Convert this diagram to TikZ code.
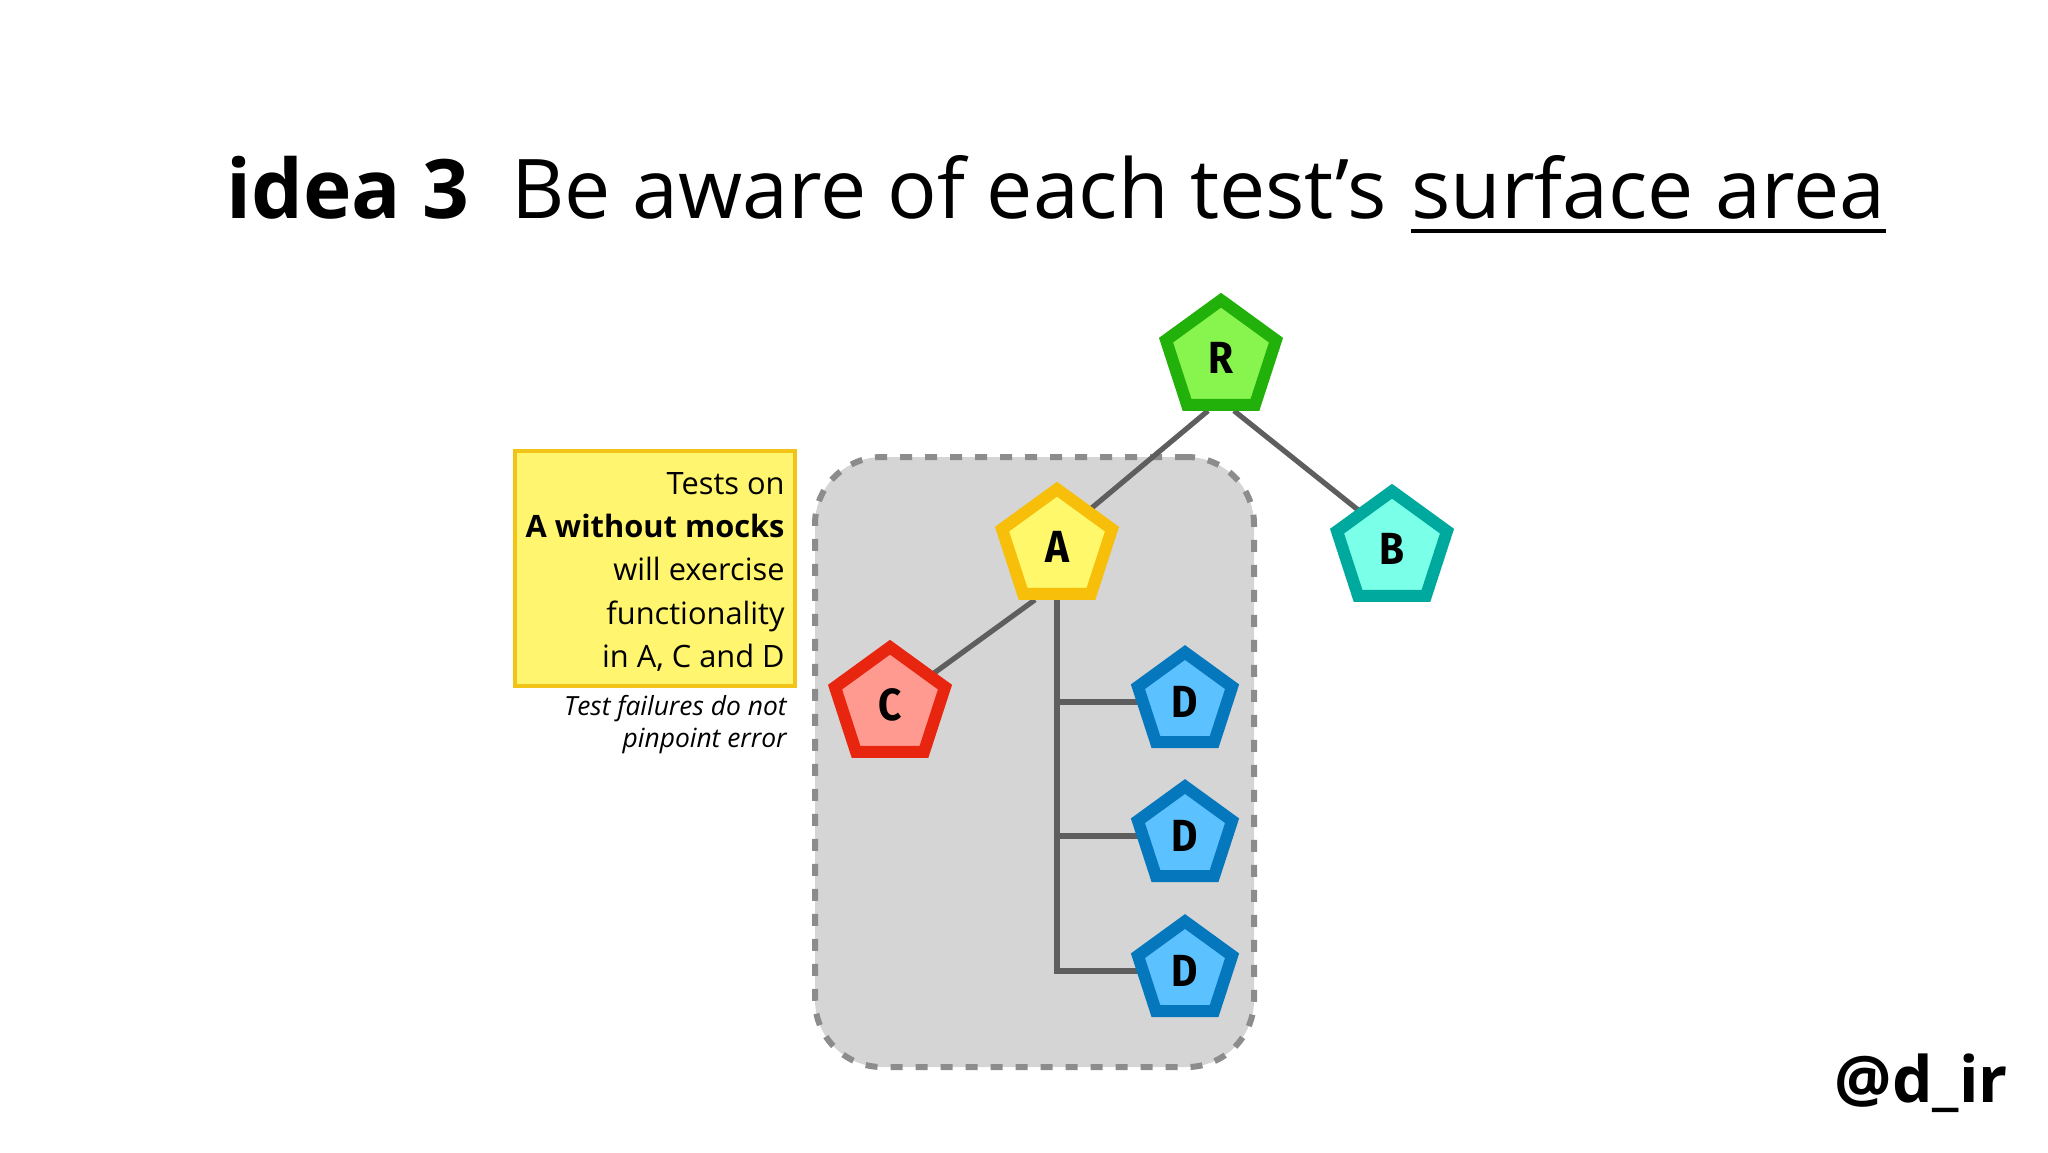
\documentclass[tikz,border=0pt]{standalone}
\usepackage{fontspec}
\setmainfont{Open Sans}
\newfontfamily\lblfont{Fira Sans}[FakeStretch=0.9]
\usetikzlibrary{shapes.geometric,calc}
\pgfdeclarelayer{bg}
\pgfsetlayers{bg,main}
\definecolor{Rfill}{HTML}{88F54E}
\definecolor{Rdraw}{HTML}{22B10A}
\definecolor{Afill}{HTML}{FFF86B}
\definecolor{Adraw}{HTML}{F7BE0A}
\definecolor{Bfill}{HTML}{7AFFE9}
\definecolor{Bdraw}{HTML}{00A99D}
\definecolor{Cfill}{HTML}{FF9A91}
\definecolor{Cdraw}{HTML}{E8250F}
\definecolor{Dfill}{HTML}{5CC1FF}
\definecolor{Ddraw}{HTML}{0577BD}
\definecolor{edgecol}{HTML}{5E5E5E}
\definecolor{areafill}{HTML}{D5D5D5}
\definecolor{areadash}{HTML}{8C8C8C}
\definecolor{notefill}{HTML}{FFF56E}
\definecolor{notedraw}{HTML}{F2C418}
\begin{document}
\begin{tikzpicture}[x=0.5pt,y=-0.5pt,
  pent/.style={regular polygon, regular polygon sides=5, minimum size=57.8pt,
    inner sep=0pt, line width=6pt,
    font=\lblfont\bfseries\fontsize{22.5}{22.5}\selectfont},
  smallpent/.style={pent, minimum size=49.5pt},
  edge/.style={draw=edgecol, line width=2.6pt},
  surface/.style={rectangle, rounded corners=33.5pt, fill=areafill, draw=areadash,
    line width=3pt, dash pattern=on 6pt off 6.5pt, inner sep=0pt},
  notebox/.style={rectangle, fill=notefill, draw=notedraw, line width=2pt, inner sep=0pt}
]
\useasboundingbox (0,0) rectangle (2048,1152);

% title
\node[anchor=base west, inner sep=0pt, font=\bfseries\fontsize{41}{41}\selectfont] (idea) at (226,218) {idea 3};
\node[anchor=base west, inner sep=0pt, font=\fontsize{41.2}{41.2}\selectfont] (be) at (511,218) {Be aware of each test’s};
\node[anchor=base west, inner sep=0pt, font=\fontsize{41.2}{41.2}\selectfont] (sa) at ($(be.base east)+(24,0)$) {surface area};
\draw[line width=2.2pt] ($(sa.base west)+(0,13)$) -- ($(sa.base east)+(0,13)$);

% nodes
\node[pent, fill=Rfill, draw=Rdraw] (R) at (1221,358) {R};
\node[pent, fill=Afill, draw=Adraw] (A) at (1057,547) {A};
\node[pent, fill=Bfill, draw=Bdraw] (B) at (1392,549) {B};
\node[pent, fill=Cfill, draw=Cdraw] (C) at (890,705) {C};
\node[smallpent, fill=Dfill, draw=Ddraw] (D1) at (1185,702) {D};
\node[smallpent, fill=Dfill, draw=Ddraw] (D2) at (1185,836) {D};
\node[smallpent, fill=Dfill, draw=Ddraw] (D3) at (1185,971) {D};

\begin{pgfonlayer}{bg}
\node[surface, minimum width=219.5pt, minimum height=305pt] (area) at (1034.5,762) {};
\draw[edge] ([xshift=-6.5pt]R.south) -- ([xshift=-6pt]A.center);
\draw[edge] ([xshift=6.5pt]R.south) -- ([xshift=7.5pt]B.center);
\draw[edge] ([xshift=-11pt]A.south) -- (C.center);
\draw[edge] (A.center) |- (D3.center);
\draw[edge] (A.center |- D1.center) -- (D1.center);
\draw[edge] (A.center |- D2.center) -- (D2.center);
\end{pgfonlayer}

% note
\node[notebox, minimum width=140pt, minimum height=117.5pt] (note) at (655,568.5) {};
\node[anchor=north east, align=right, inner sep=0pt, font=\fontsize{15.4}{21.7}\selectfont] (notetext) at (785,471.7)
  {Tests on\\\textbf{A without mocks}\\will exercise\\functionality\\in A, C and D};
\node[anchor=north east, align=right, inner sep=0pt, font=\itshape\fontsize{13.2}{15.85}\selectfont] (caption) at (787,695)
  {Test failures do not\\pinpoint error};

% handle
\node[anchor=base east, inner sep=0pt, font=\bfseries\fontsize{32}{32}\selectfont] (handle) at (2008,1102) {@d\_ir};
\end{tikzpicture}
\end{document}
